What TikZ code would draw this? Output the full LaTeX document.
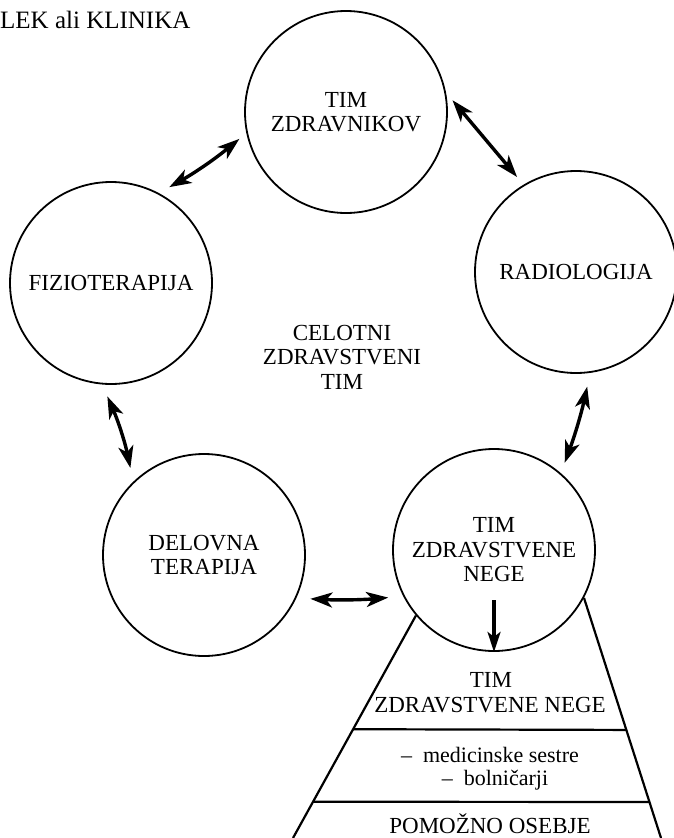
\documentclass[tikz,border=0pt]{standalone}
\usepackage{fontspec}
\setmainfont{Liberation Serif}
\usetikzlibrary{arrows.meta,calc}
\begin{document}
\begin{tikzpicture}[x=1pt,y=-1pt,
  team/.style={circle,draw,line width=1.8pt,minimum size=202pt,inner sep=0pt,align=center,
    font=\fontsize{23}{24.5}\selectfont},
  lbl/.style={inner sep=0pt,align=center,font=\fontsize{23}{24.5}\selectfont},
  dbl/.style={{Stealth[length=22pt,width=15pt,inset=6pt]}-{Stealth[length=22pt,width=15pt,inset=6pt]},line width=3.4pt},
  sgl/.style={-{Stealth[length=20pt,width=13pt,inset=5pt]},line width=3.2pt},
  edge/.style={line width=2.2pt}]
\useasboundingbox (0,0) rectangle (673,838);
\node[inner sep=0pt,anchor=base west,font=\fontsize{25}{27}\selectfont] (title) at (0,28) {LEK ali KLINIKA};
\node[team] (top) at (346,112) {TIM\\ZDRAVNIKOV};
\node[team] (fizio) at (111,283) {FIZIOTERAPIJA};
\node[team] (radio) at (576,272) {RADIOLOGIJA};
\node[team] (delov) at (204,555) {DELOVNA\\TERAPIJA};
\node[team] (nege) at (494,550) {TIM\\ZDRAVSTVENE\\NEGE};
\node[lbl] (celot) at (342,357) {CELOTNI\\ZDRAVSTVENI\\TIM};
% connectors
\draw[dbl,shorten <=12pt,shorten >=9pt] (fizio.62) to[bend right=5] (top.192);
\draw[dbl,shorten <=10pt,shorten >=10pt] (top.11) -- (radio.121);
\draw[dbl,shorten <=13pt,shorten >=14pt] (fizio.265) to[bend left=6] (delov.134);
\draw[dbl,shorten <=14pt,shorten >=11pt] (radio.278) to[bend left=4] (nege.49);
\draw[dbl,shorten <=14pt,shorten >=15pt] (delov.335) to[bend right=4] (nege.207);
\draw[sgl] ([yshift=-50pt]nege.center) -- (nege.south);
% trapezoid
\coordinate (tl) at (nege.220);
\coordinate (tr) at (nege.332);
\coordinate (bl) at (293,838);
\coordinate (br) at (661,838);
\draw[edge] (tl) -- (bl);
\draw[edge] (tr) -- (br);
\draw[edge] ($(tl)!0.511!(bl)$) -- ($(tr)!0.55!(br)$);
\draw[edge] ($(tl)!0.837!(bl)$) -- ($(tr)!0.85!(br)$);
\node[lbl,anchor=base] (t1) at (491,687) {TIM};
\node[lbl,anchor=base] (t2) at (490,712) {ZDRAVSTVENE NEGE};
\node[lbl,anchor=base,font=\fontsize{22}{24}\selectfont] (m1) at (490,762) {–\ \ medicinske sestre};
\node[lbl,anchor=base,font=\fontsize{22}{24}\selectfont] (m2) at (495,785) {–\ \ bolničarji};
\node[lbl,anchor=base] (p1) at (490,833) {POMOŽNO OSEBJE};
\end{tikzpicture}
\end{document}
